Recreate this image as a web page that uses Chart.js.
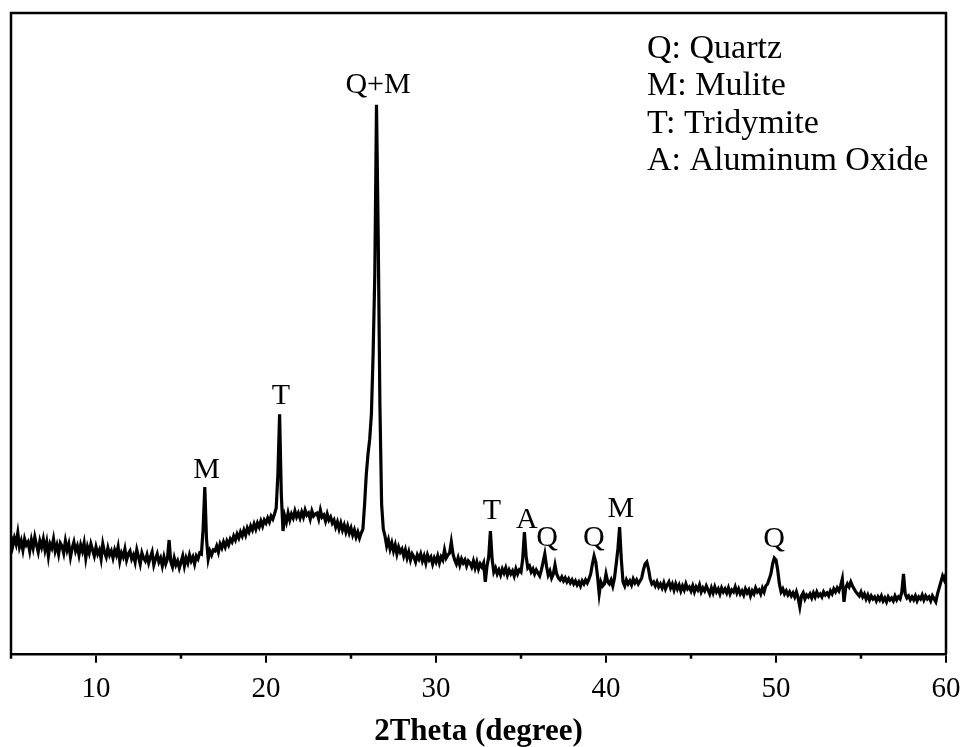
<!DOCTYPE html>
<html>
<head>
<meta charset="utf-8">
<script src="https://cdn.jsdelivr.net/npm/chart.js@4/dist/chart.umd.min.js"></script>
<style>
  html, body { margin: 0; background: #fff; }
  #wrap { width: 966px; height: 747px; }
</style>
</head>
<body>
<div id="wrap"><canvas id="xrd"></canvas></div>
<script>
// 2theta sampling: 5.0 .. 60.0 in 0.1 degree steps, one row per degree
const THETA_START = 5;
const THETA_STEP = 0.1;

// intensity (a.u.)
const intensity = [
  118,108,116,110,121,107,113,104,115,109, // 5
  112,103,114,106,117,109,102,113,107,115, // 6
  104,112,98,110,106,115,103,109,100,111,  // 7
  108,101,113,104,110,97,106,112,103,108,  // 8
  99,109,103,111,96,107,101,110,104,98,    // 9
  107,100,104,95,110,102,97,106,99,103,    // 10
  96,104,99,107,93,101,97,105,94,100,      // 11
  103,95,99,92,104,97,90,101,96,93,        // 12
  99,91,97,102,89,95,100,92,96,88,         // 13
  97,90,95,114,92,87,96,89,93,86,          // 14
  92,98,88,96,91,99,93,97,90,98,           // 15
  95,101,100,125,167,115,95,103,99,104,    // 16
  103,108,102,110,106,112,107,113,109,115, // 17
  112,118,114,120,116,122,118,124,119,126, // 18
  122,128,124,130,125,131,127,133,128,134, // 19
  131,136,132,138,135,140,146,180,240,160, // 20
  123,138,132,141,134,140,136,143,137,141, // 21
  136,142,137,144,139,141,135,143,138,140, // 22
  141,135,144,137,139,133,140,134,137,131, // 23
  134,127,132,125,131,124,129,122,128,121, // 24
  126,119,124,117,122,116,121,125,150,180, // 25
  200,215,240,300,380,550,420,250,150,125, // 26
  118,108,114,105,111,103,109,100,107,102, // 27
  105,98,104,96,102,94,100,97,92,99,       // 28
  95,100,93,98,91,99,94,97,90,96,          // 29
  92,98,91,97,94,104,96,99,101,112,        // 30
  100,94,90,96,89,95,91,94,88,93,          // 31
  91,87,93,86,92,85,90,87,91,72,           // 32
  88,97,123,95,82,86,80,84,79,85,          // 33
  81,86,79,84,80,83,78,85,80,84,           // 34
  82,95,122,98,86,88,82,85,80,84,          // 35
  81,78,84,92,100,88,79,83,76,80,          // 36
  89,80,76,74,77,73,76,72,75,71,           // 37
  74,70,73,69,72,68,73,70,74,71,           // 38
  75,80,90,98,92,78,60,72,68,70,           // 39
  80,72,70,74,68,76,90,105,127,95,         // 40
  72,68,74,70,73,69,75,71,74,70,           // 41
  73,76,84,90,92,85,75,70,72,68,           // 42
  72,67,70,66,71,65,69,72,66,70,           // 43
  64,70,65,69,63,68,64,70,65,67,           // 44
  63,68,62,67,64,69,62,66,63,68,           // 45
  64,60,66,61,67,62,65,60,66,62,           // 46
  65,61,66,60,64,62,67,61,65,60,           // 47
  63,59,65,61,64,58,63,60,66,62,           // 48
  64,60,66,62,68,70,75,80,90,96,           // 49
  94,84,70,62,65,60,63,59,62,58,           // 50
  61,57,62,56,47,58,61,55,59,57,           // 51
  60,56,61,57,62,58,60,57,62,59,           // 52
  61,58,63,60,65,62,66,63,68,75,           // 53
  52,66,70,67,72,68,65,62,60,58,           // 54
  62,57,60,55,59,54,58,55,57,53,           // 55
  57,54,58,53,56,52,57,54,56,53,           // 56
  58,54,57,55,62,80,60,56,58,54,           // 57
  57,54,58,53,57,55,59,54,58,55,           // 58
  57,53,58,55,52,60,66,72,78,74,           // 59
  80                                       // 60
];

// phase labels above the peaks (2theta, intensity position)
const peakLabels = ['M', 'T', 'Q+M', 'T', 'A', 'Q', 'Q', 'M', 'Q'];
const peakLabelX = [16.5, 20.88, 26.59, 33.29, 35.35, 36.53, 39.29, 40.88, 49.88];
const peakLabelY = [184, 258, 570, 143, 134, 116, 116, 145, 115];

const legendLines = ['Q: Quartz', 'M: Mulite', 'T: Tridymite', 'A: Aluminum Oxide'];

const xTicks = [10, 20, 30, 40, 50, 60];
const xMinorTicks = [5, 15, 25, 35, 45, 55];
const xTitle = '2Theta (degree)';

const SERIF = "'Liberation Serif', 'Times New Roman', serif";

const points = intensity.map((y, i) => ({
  x: Math.round((THETA_START + i * THETA_STEP) * 10) / 10,
  y,
}));

const decorations = {
  id: 'decorations',
  afterDraw(chart) {
    const { ctx, chartArea: a, scales: { x, y } } = chart;
    ctx.save();

    // frame (top, left, right) and minor ticks
    ctx.strokeStyle = '#000';
    ctx.lineWidth = 2.5;
    ctx.beginPath();
    ctx.moveTo(a.left, a.bottom);
    ctx.lineTo(a.left, a.top);
    ctx.lineTo(a.right, a.top);
    ctx.lineTo(a.right, a.bottom);
    xMinorTicks.forEach(v => {
      const px = x.getPixelForValue(v);
      ctx.moveTo(px, a.bottom);
      ctx.lineTo(px, a.bottom + 5);
    });
    ctx.stroke();

    ctx.fillStyle = '#000';
    ctx.textBaseline = 'middle';

    // peak labels
    ctx.font = `30px ${SERIF}`;
    ctx.textAlign = 'center';
    peakLabels.forEach((t, i) => {
      ctx.fillText(t, x.getPixelForValue(peakLabelX[i]), y.getPixelForValue(peakLabelY[i]));
    });

    // axis title
    ctx.font = `bold 31px ${SERIF}`;
    ctx.fillText(xTitle, (a.left + a.right) / 2, a.bottom + 78);

    // phase key
    ctx.font = `34px ${SERIF}`;
    ctx.textAlign = 'left';
    legendLines.forEach((t, i) => {
      ctx.fillText(t, 647, 49 + i * 37.5);
    });

    ctx.restore();
  },
};

new Chart(document.getElementById('xrd'), {
  type: 'line',
  data: {
    datasets: [{
      data: points,
      borderColor: '#000',
      borderWidth: 3.2,
      pointRadius: 0,
      tension: 0,
      fill: false,
    }],
  },
  options: {
    responsive: true,
    maintainAspectRatio: false,
    animation: false,
    layout: { padding: { left: 11, right: 20, top: 13, bottom: 32 } },
    plugins: {
      legend: { display: false },
      tooltip: { enabled: false },
    },
    scales: {
      x: {
        type: 'linear',
        min: 5,
        max: 60,
        afterBuildTicks: s => { s.ticks = xTicks.map(v => ({ value: v })); },
        grid: {
          display: true,
          drawOnChartArea: false,
          drawTicks: true,
          tickLength: 9,
          color: '#000',
          lineWidth: 2,
        },
        border: { display: true, color: '#000', width: 2.5 },
        ticks: {
          color: '#000',
          font: { family: SERIF, size: 29, lineHeight: 1.8 },
          padding: 0,
          maxRotation: 0,
          autoSkip: false,
        },
      },
      y: {
        display: false,
        min: 0,
        max: 642,
      },
    },
  },
  plugins: [decorations],
});
</script>
</body>
</html>
